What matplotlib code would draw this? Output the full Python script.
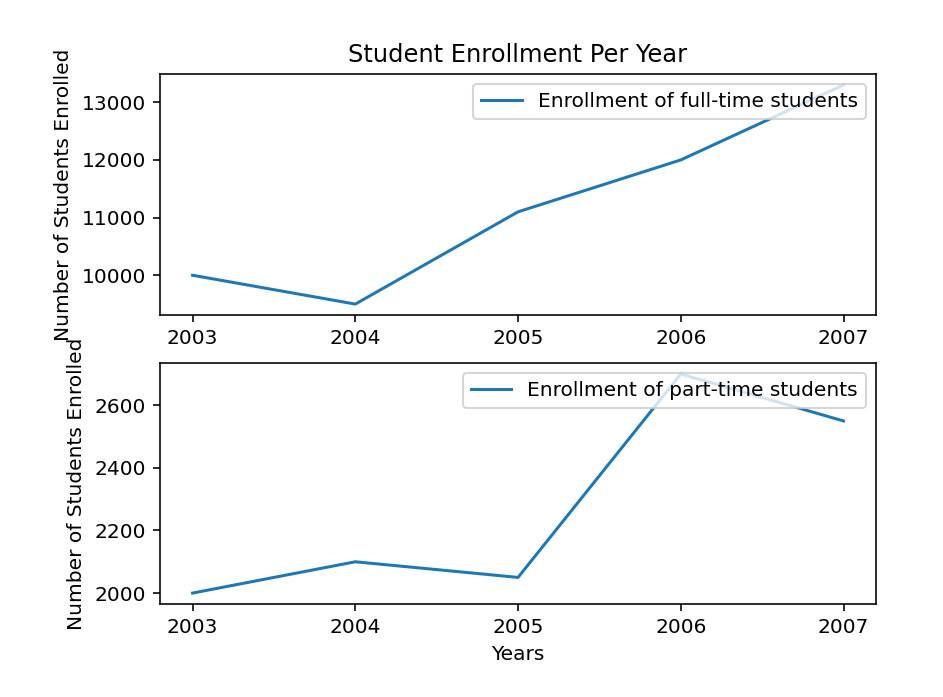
import matplotlib
matplotlib.use('Agg')
import matplotlib.pyplot as plt

years = [2003, 2004, 2005, 2006, 2007]
full_time = [10000, 9500, 11100, 12000, 13300]
part_time = [2000, 2100, 2050, 2700, 2550]

dpi = 145
fig = plt.figure(figsize=(943 / dpi, 697 / dpi), dpi=dpi)

ax1 = fig.add_axes([0.1697, 0.548, 0.7593, 0.3458])
ax1.plot(years, full_time, label='Enrollment of full-time students')
ax1.set_title('Student Enrollment Per Year')
ax1.set_ylabel('Number of Students Enrolled')
ax1.set_xticks(years)
ax1.legend(loc='upper right')

ax2 = fig.add_axes([0.1697, 0.1334, 0.7593, 0.3457])
ax2.plot(years, part_time, label='Enrollment of part-time students')
ax2.set_ylabel('Number of Students Enrolled')
ax2.set_xlabel('Years')
ax2.set_xticks(years)
ax2.legend(loc='upper right')

fig.savefig('out.png', dpi=dpi)
